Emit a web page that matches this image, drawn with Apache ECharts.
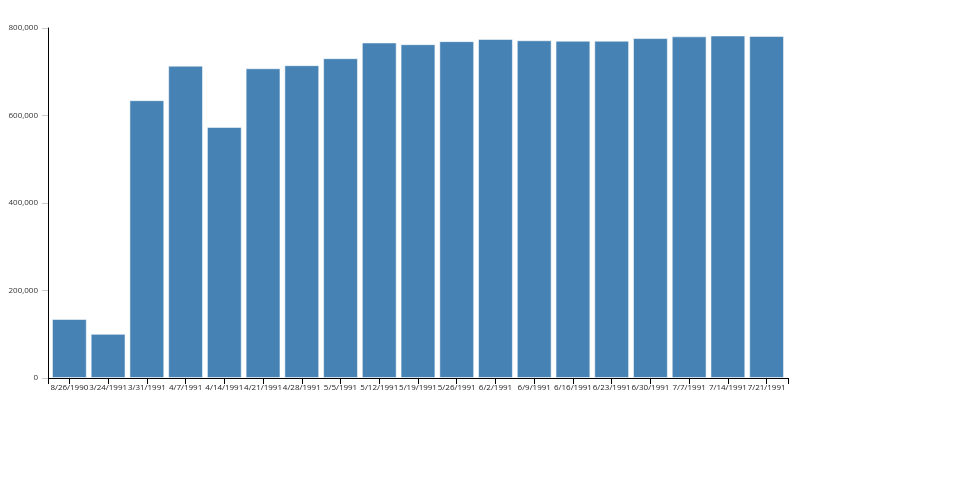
<!DOCTYPE html>
<html>
<head>
<meta charset="utf-8">
<script src="https://cdn.jsdelivr.net/npm/echarts@6/dist/echarts.min.js"></script>
<style>html,body{margin:0;padding:0;background:#fff;}#c{width:960px;height:500px;}</style>
</head>
<body>
<div id="c"></div>
<script>
const categories = ["8/26/1990","3/24/1991","3/31/1991","4/7/1991","4/14/1991","4/21/1991","4/28/1991","5/5/1991","5/12/1991","5/19/1991","5/26/1991","6/2/1991","6/9/1991","6/16/1991","6/23/1991","6/30/1991","7/7/1991","7/14/1991","7/21/1991"];
const values = [135000,101000,635000,714000,574000,708000,715000,731000,767000,763000,770000,775000,772000,771000,771000,777000,781000,783000,782000];
const yTicks = [0,200000,400000,600000,800000];

const chart = echarts.init(document.getElementById('c'), null, {renderer:'canvas'});
const fontFamily = '"Open Sans", "Noto Sans", sans-serif';
chart.setOption({
  animation: false,
  grid: [
    {left: 50, right: 174, top: 28, bottom: 122},
    {left: 48, right: 172, top: 28, bottom: 122}
  ],
  xAxis: [
    {
      type: 'category', gridIndex: 0, data: categories,
      axisLine: {show: false},
      axisTick: {show: true, alignWithLabel: true, length: 6, lineStyle: {color: '#000'}},
      axisLabel: {fontFamily, fontSize: 8, color: '#222', margin: 6, interval: 0}
    },
    {
      type: 'value', gridIndex: 1, min: 0, max: 1, interval: 1,
      axisLine: {show: true, lineStyle: {color: '#000', width: 1}},
      axisTick: {show: true, length: 6, lineStyle: {color: '#000'}},
      axisLabel: {show: false}, splitLine: {show: false}
    }
  ],
  yAxis: [
    {
      type: 'value', gridIndex: 0, min: yTicks[0], max: yTicks[yTicks.length-1], interval: 200000,
      show: false, splitLine: {show: false}
    },
    {
      type: 'value', gridIndex: 1, min: yTicks[0], max: yTicks[yTicks.length-1], interval: 200000,
      axisLine: {show: true, lineStyle: {color: '#000', width: 1}},
      axisTick: {show: true, length: 6, lineStyle: {color: '#ccc'}},
      axisLabel: {fontFamily, fontSize: 8, color: '#333', margin: 10,
        formatter: v => v.toLocaleString('en-US')},
      splitLine: {show: false}
    }
  ],
  series: [{
    type: 'bar', xAxisIndex: 0, yAxisIndex: 0, data: values,
    barCategoryGap: '10%',
    itemStyle: {color: '#4682b4', borderColor: 'rgba(255,255,255,0.55)', borderWidth: 1}
  }]
});
</script>
</body>
</html>
